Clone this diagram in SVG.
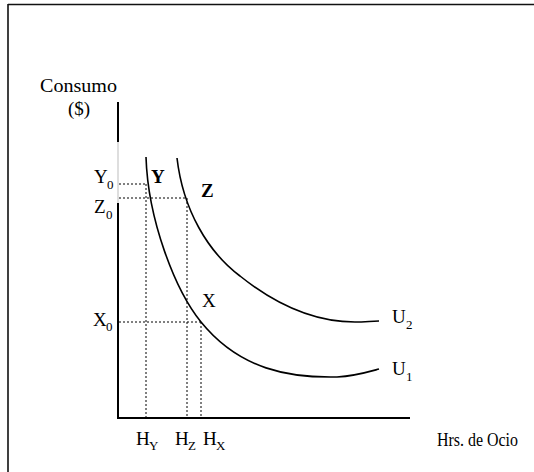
<svg xmlns="http://www.w3.org/2000/svg" width="534" height="472" viewBox="0 0 534 472">
<style>
text{font-family:"Liberation Serif","Times New Roman",serif;fill:#000;font-size:19px}
.sub{font-size:13px}
.b{font-weight:bold}
.dot{stroke:#000;stroke-width:1;stroke-dasharray:2 2;fill:none}
.curve{stroke:#000;stroke-width:1.6;fill:none}
.axis{stroke:#000;stroke-width:2;fill:none}
</style>
<rect width="534" height="472" fill="#fff"/>
<g id="frame">
<path d="M8,4.5 H534 M8,4 V472" stroke="#111" stroke-width="1.6" fill="none"/>
</g>
<g id="axes">
<path class="axis" d="M118,102 V142 M118,203 V418 H410"/>
<path d="M118,142 V203" stroke="#c8c8c8" stroke-width="1.2"/>
</g>
<g id="connectors">
<path class="dot" d="M119,184 H146 M119,198 H187 M119,322 H201"/>
<path class="dot" d="M146,184 V417 M187,198 V417 M201,322 V417"/>
</g>
<g id="U1">
<path class="curve" d="M146,157 C148,220 175,290 201,322 C240,370 290,378 337,377 C355,376 368,372 379,369"/>
<text x="392" y="375">U</text><text class="sub" x="406" y="381">1</text>
</g>
<g id="U2">
<path class="curve" d="M177,158 C183,210 208,252 240,276 C270,300 310,322 355,322 C365,322 372,321 379,321"/>
<text x="392" y="323">U</text><text class="sub" x="406" y="329">2</text>
</g>
<g id="labels">
<text x="40" y="92" textLength="77" lengthAdjust="spacingAndGlyphs">Consumo</text>
<text x="68" y="115">($)</text>
<text x="94" y="183">Y</text><text class="sub" x="107" y="189">0</text>
<text x="94" y="213">Z</text><text class="sub" x="106" y="219">0</text>
<text x="93" y="326">X</text><text class="sub" x="106" y="331">0</text>
<text class="b" x="151" y="183">Y</text>
<text class="b" x="201" y="197">Z</text>
<text x="202" y="307">X</text>
<text x="136" y="445">H</text><text class="sub" x="149" y="450">Y</text>
<text x="175" y="445">H</text><text class="sub" x="188" y="450">Z</text>
<text x="203" y="445">H</text><text class="sub" x="216" y="450">X</text>
<text x="437" y="446" textLength="81" lengthAdjust="spacingAndGlyphs">Hrs. de Ocio</text>
</g>
</svg>
